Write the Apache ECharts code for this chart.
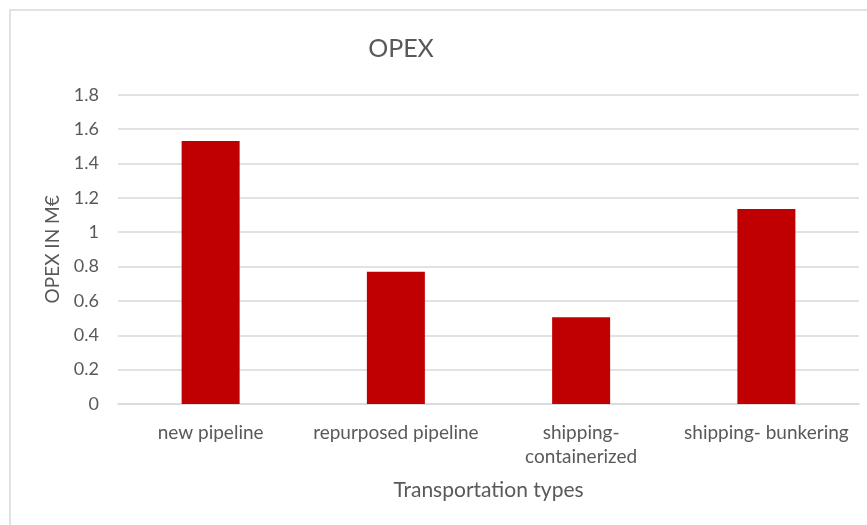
<!DOCTYPE html>
<html>
<head>
<meta charset="utf-8">
<script src="https://cdn.jsdelivr.net/npm/echarts@6/dist/echarts.min.js"></script>
<style>
  html, body { margin: 0; padding: 0; background: #fff; }
  #chart { width: 867px; height: 525px; }
</style>
</head>
<body>
<div id="chart"></div>
<script>
// Operating expenditure per transport option (million euro)
const categories = ['new pipeline', 'repurposed pipeline', 'shipping-\ncontainerized', 'shipping- bunkering'];
const opexValues = [1.53, 0.77, 0.505, 1.135];
const yTicks = { min: 0, max: 1.8, step: 0.2 };

const textColor = '#595959';
const gridColor = '#d9d9d9';
const font = 'Lato, "Open Sans", sans-serif';

const chart = echarts.init(document.getElementById('chart'));
chart.setOption({
  animation: false,
  backgroundColor: '#fff',
  graphic: [{
    type: 'rect',
    shape: { x: 10, y: 10, width: 870, height: 530 },
    style: { fill: 'none', stroke: gridColor, lineWidth: 1.5 },
    silent: true
  }],
  title: {
    text: 'OPEX',
    left: 396, top: 31, textAlign: 'center',
    textStyle: { color: textColor, fontSize: 25, fontWeight: 'normal', fontFamily: font }
  },
  grid: { left: 118, right: 8, top: 94.7, bottom: 121 },
  xAxis: {
    type: 'category',
    data: categories,
    name: 'Transportation types',
    nameLocation: 'middle',
    nameGap: 76,
    nameTextStyle: { color: textColor, fontSize: 21, fontFamily: font },
    axisLine: { lineStyle: { color: gridColor, width: 1.5 } },
    axisTick: { show: false },
    axisLabel: { color: textColor, fontSize: 19, fontFamily: font, margin: 17, lineHeight: 24, interval: 0 }
  },
  yAxis: {
    type: 'value',
    min: yTicks.min, max: yTicks.max, interval: yTicks.step,
    name: 'OPEX IN M€',
    nameLocation: 'middle',
    nameGap: 56,
    nameTextStyle: { color: textColor, fontSize: 19, fontFamily: font },
    axisLine: { show: false },
    axisTick: { show: false },
    axisLabel: {
      color: textColor, fontSize: 18, fontFamily: font, margin: 19,
      formatter: v => String(Math.round(v * 10) / 10)
    },
    splitLine: { lineStyle: { color: gridColor, width: 1.5 } }
  },
  series: [{
    type: 'bar',
    data: opexValues,
    barWidth: 58,
    itemStyle: { color: '#c00000' }
  }]
});
</script>
</body>
</html>
